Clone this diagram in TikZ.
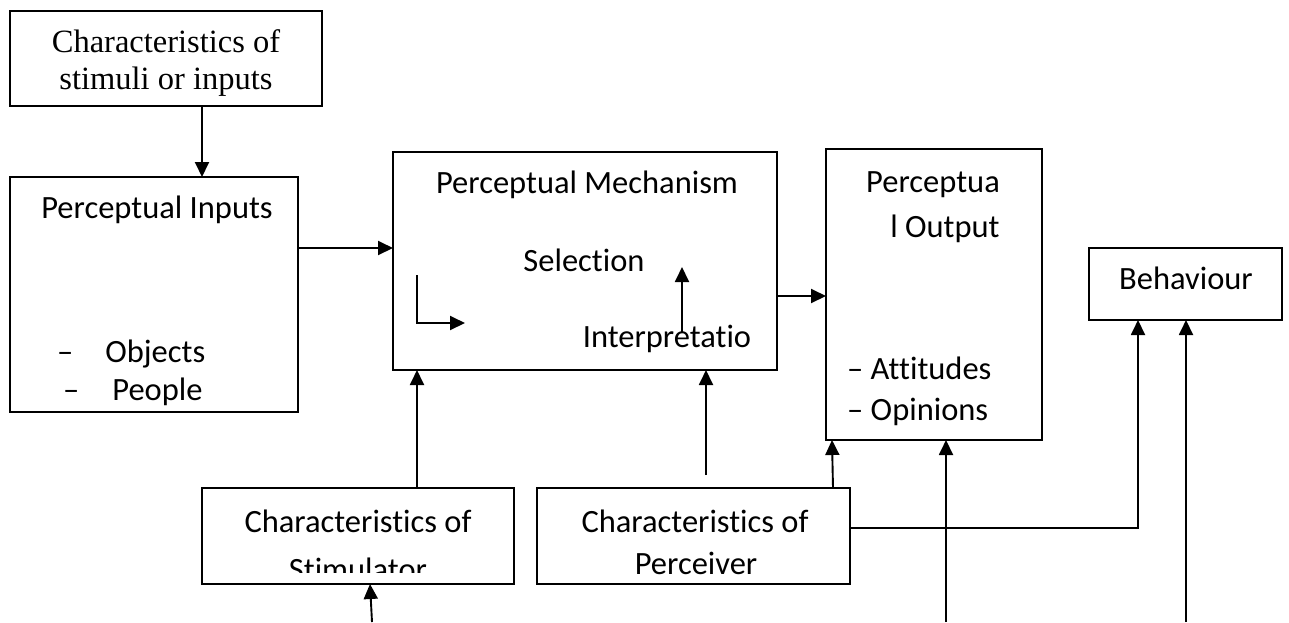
\documentclass[tikz,border=0pt]{standalone}
\usepackage{fontspec}
\setmainfont{Carlito}[Ligatures=NoCommon]
\newfontfamily\tnr{Liberation Serif}
\usetikzlibrary{arrows.meta}
\begin{document}
\begin{tikzpicture}[x=1pt,y=-1pt,
  box/.style={draw, line width=2pt, inner sep=0pt, outer sep=0pt},
  lbl/.style={inner sep=0pt, anchor=base, font=\fontsize{32.5}{38}\selectfont},
  lblw/.style={lbl, anchor=base west},
  arr/.style={line width=1.9pt, -{Triangle[length=15pt,width=14pt]}}]
\useasboundingbox (0,0) rectangle (1289,622);
\fill[white] (0,0) rectangle (1289,622);

% boxes
\node[box, minimum width=312pt, minimum height=95pt] (b1) at (166,58.5) {};
\node[box, minimum width=288pt, minimum height=235pt] (inp) at (154,294.5) {};
\node[box, minimum width=384pt, minimum height=218pt] (mech) at (585,261) {};
\node[box, minimum width=216pt, minimum height=291pt] (out) at (934,294.5) {};
\node[box, minimum width=193pt, minimum height=72pt] (beh) at (1185.5,284) {};
\node[box, minimum width=312pt, minimum height=96pt] (stim) at (358,536) {};
\node[box, minimum width=313pt, minimum height=96pt] (perc) at (693.5,536) {};

% texts
\node[lbl, font=\fontsize{32.5}{38}\tnr] (t1a) at (166,52) {Characteristics of};
\node[lbl, font=\fontsize{32.5}{38}\tnr] (t1b) at (166,89) {stimuli or inputs};
\node[lbl] (t2) at (157,218) {Perceptual Inputs};
\node[lblw] (t2a) at (57,362) {–\hspace{32pt}Objects};
\node[lblw] (t2b) at (63,400) {–\hspace{33pt}People};
\node[lbl] (t3) at (587,193) {Perceptual Mechanism};
\node[lbl] (t3a) at (584,271) {Selection};
\node[lbl] (t3b) at (667,347) {Interpretatio};
\node[lbl] (t4a) at (933,192) {Perceptua};
\node[lbl] (t4b) at (945,237) {l Output};
\node[lblw] (t4c) at (847,379) {– Attitudes};
\node[lblw] (t4d) at (847,420) {– Opinions};
\node[lbl] (t5) at (1186,289) {Behaviour};
\node[lbl] (t6a) at (358,532) {Characteristics of};
\begin{scope}
  \clip (202,488) rectangle (514,572);
  \node[lbl] (t6b) at (358,580) {Stimulator};
\end{scope}
\node[lbl] (t7a) at (695,532) {Characteristics of};
\node[lbl] (t7b) at (696,574) {Perceiver};

% helper coordinates
\coordinate (c202) at (202,0);
\coordinate (c248) at (0,248);
\coordinate (c296) at (0,296);
\coordinate (c417) at (417,0);
\coordinate (c706) at (706,475);
\coordinate (c833) at (833,0);
\coordinate (c832) at (832,0);
\coordinate (c528) at (0,528);
\coordinate (c1138) at (1138,0);
\coordinate (c1186) at (1186,622);
\coordinate (c946) at (946,622);
\coordinate (c372) at (372,622);
\coordinate (c370) at (370,0);
\coordinate (la) at (417,275);
\coordinate (lb) at (417,323);
\coordinate (lc) at (465,323);
\coordinate (ua) at (682,333);
\coordinate (ub) at (682,267);

% connectors
\draw[arr] (b1.south -| c202) -- (inp.north -| c202);
\draw[arr] (inp.east |- c248) -- (mech.west |- c248);
\draw[arr] (mech.east |- c296) -- (out.west |- c296);
\draw[arr] (la) -- (lb) -- (lc);
\draw[arr] (ua) -- (ub);
\draw[arr] (stim.north -| c417) -- (mech.south -| c417);
\draw[arr] (c706) -- (mech.south -| c706);
\draw[arr] (perc.north -| c833) -- (out.south -| c832);
\draw[arr] (perc.east |- c528) -| (beh.south -| c1138);
\draw[arr] (c1186) -- (beh.south -| c1186);
\draw[arr] (c946) -- (out.south -| c946);
\draw[arr] (c372) -- (stim.south -| c370);
\end{tikzpicture}
\end{document}
